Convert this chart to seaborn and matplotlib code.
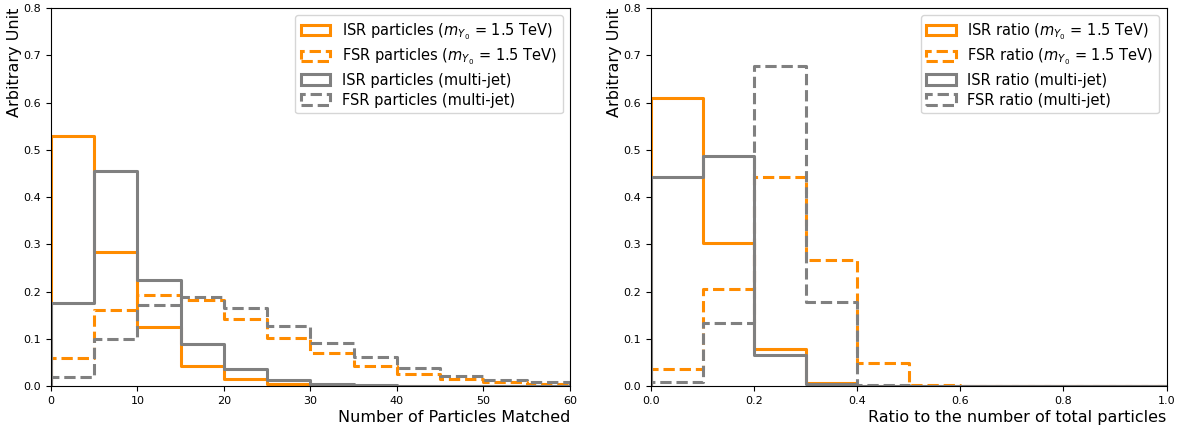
import numpy as np
import pandas as pd
import matplotlib
matplotlib.use("Agg")
import matplotlib.pyplot as plt
from matplotlib.patches import Patch
import seaborn as sns

# ---- data ----
n_edges = [0, 5, 10, 15, 20, 25, 30, 35, 40, 45, 50, 55, 60]
n_isr_sig = [0.530, 0.283, 0.125, 0.042, 0.015, 0.005, 0.002, 0.001, 0.0005, 0.0003, 0.0002, 0.0001]
n_fsr_sig = [0.060, 0.160, 0.192, 0.181, 0.141, 0.102, 0.069, 0.043, 0.026, 0.014, 0.008, 0.005]
n_isr_bkg = [0.176, 0.454, 0.225, 0.089, 0.035, 0.013, 0.005, 0.002, 0.001, 0.001, 0.0005, 0.0003]
n_fsr_bkg = [0.020, 0.100, 0.172, 0.189, 0.166, 0.128, 0.090, 0.061, 0.038, 0.021, 0.013, 0.008]

r_edges = [0.0, 0.1, 0.2, 0.3, 0.4, 0.5, 0.6, 0.7, 0.8, 0.9, 1.0]
r_isr_sig = [0.610, 0.303, 0.079, 0.007, 0.001, 0.0, 0.0, 0.0, 0.0, 0.0]
r_fsr_sig = [0.037, 0.206, 0.443, 0.266, 0.048, 0.003, 0.001, 0.0005, 0.0002, 0.0]
r_isr_bkg = [0.443, 0.487, 0.065, 0.004, 0.001, 0.0, 0.0, 0.0, 0.0, 0.0]
r_fsr_bkg = [0.009, 0.134, 0.677, 0.178, 0.003, 0.001, 0.0, 0.0, 0.0, 0.0]

left_labels = ["ISR particles ($m_{Y_0}$ = 1.5 TeV)", "FSR particles ($m_{Y_0}$ = 1.5 TeV)",
               "ISR particles (multi-jet)", "FSR particles (multi-jet)"]
right_labels = ["ISR ratio ($m_{Y_0}$ = 1.5 TeV)", "FSR ratio ($m_{Y_0}$ = 1.5 TeV)",
                "ISR ratio (multi-jet)", "FSR ratio (multi-jet)"]

colors = ["darkorange", "darkorange", "gray", "gray"]
styles = ["-", "--", "-", "--"]
LW = 2.2

fig = plt.figure(figsize=(11.88, 4.30), dpi=100)
ax1 = fig.add_axes([0.0429, 0.1023, 0.4369, 0.8791])
ax2 = fig.add_axes([0.548, 0.1023, 0.434, 0.8791])


def draw(ax, edges, series, labels, xlim, xlabel, xticks, fmt):
    edges = np.asarray(edges, float)
    w = edges[1] - edges[0]
    # pad one empty bin on each side so the outline drops to zero at the ends
    ext = np.concatenate([[edges[0] - w], edges, [edges[-1] + w]])
    centers = (ext[:-1] + ext[1:]) / 2
    handles = []
    for vals, c, ls, lab in zip(series, colors, styles, labels):
        df = pd.DataFrame({"x": centers, "w": np.concatenate([[0.0], vals, [0.0]])})
        sns.histplot(data=df, x="x", weights="w", bins=list(ext), element="step", fill=False,
                     color=c, linestyle=ls, linewidth=LW, ax=ax)
        handles.append(Patch(facecolor="none", edgecolor=c, linestyle=ls, linewidth=LW, label=lab))
    ax.set_xlim(*xlim)
    ax.set_ylim(0, 0.8)
    ax.set_xticks(xticks)
    ax.set_xticklabels([fmt.format(t) for t in xticks])
    yt = np.round(np.arange(0, 0.81, 0.1), 1)
    ax.set_yticks(yt)
    ax.set_yticklabels(["{:.1f}".format(t) for t in yt])
    ax.tick_params(labelsize=8)
    ax.set_xlabel(xlabel, loc="right", fontsize=11.5, labelpad=3)
    ax.set_ylabel("Arbitrary Unit", loc="top", fontsize=11.5, labelpad=1)
    ax.legend(handles=handles, loc="upper right", fontsize=10.5,
              labelspacing=0.35, borderpad=0.4)


draw(ax1, n_edges, [n_isr_sig, n_fsr_sig, n_isr_bkg, n_fsr_bkg], left_labels,
     (0, 60), "Number of Particles Matched", [0, 10, 20, 30, 40, 50, 60], "{:d}")
draw(ax2, r_edges, [r_isr_sig, r_fsr_sig, r_isr_bkg, r_fsr_bkg], right_labels,
     (0, 1.0), "Ratio to the number of total particles", [0, 0.2, 0.4, 0.6, 0.8, 1.0], "{:.1f}")

fig.savefig("out.png", dpi=100)
